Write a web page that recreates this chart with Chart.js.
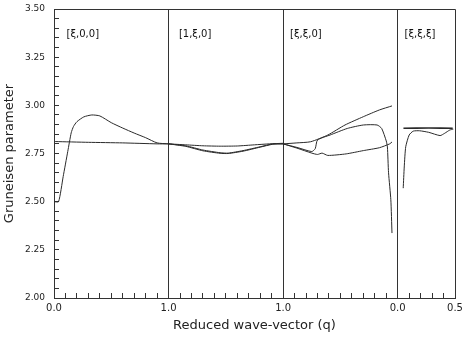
<!DOCTYPE html>
<html>
<head>
<meta charset="utf-8">
<script src="https://cdn.jsdelivr.net/npm/chart.js@4.4.1/dist/chart.umd.min.js"></script>
<style>
  html, body { margin: 0; padding: 0; background: #fff; }
</style>
</head>
<body>
<canvas id="gruneisen-chart" width="463" height="339"></canvas>
<script>
// path coordinate: [xi,0,0] 0-1, [1,xi,0] 1-2, [xi,xi,0] 2-3, [xi,xi,xi] 3-3.5
const segmentNames = ['[ξ,0,0]', '[1,ξ,0]', '[ξ,ξ,0]', '[ξ,ξ,ξ]'];
const boundaries = [1, 2, 3];
const xTickPositions = [0, 1, 2, 3, 3.5];
const xTickLabels = ['0.0', '1.0', '1.0', '0.0', '0.5'];

// [xi,0,0]
const s1UpperQ = [0, 0.04, 0.08, 0.12, 0.15, 0.17, 0.20, 0.26, 0.33, 0.40, 0.50, 0.60, 0.70, 0.80, 0.90, 1.0];
const s1UpperG = [2.50, 2.50, 2.63, 2.76, 2.857, 2.89, 2.915, 2.94, 2.95, 2.945, 2.91, 2.882, 2.856, 2.832, 2.805, 2.80];
const s1FlatQ = [0.01, 0.3, 0.6, 0.9, 1.0];
const s1FlatG = [2.812, 2.808, 2.805, 2.80, 2.80];

// [1,xi,0]
const s2UpperQ = [1.0, 1.15, 1.30, 1.45, 1.60, 1.75, 1.88, 2.0];
const s2UpperG = [2.80, 2.795, 2.79, 2.788, 2.789, 2.795, 2.80, 2.803];
const s2LowerQ = [1.0, 1.15, 1.30, 1.45, 1.52, 1.65, 1.80, 1.91, 2.0];
const s2LowerG = [2.80, 2.79, 2.768, 2.754, 2.752, 2.765, 2.785, 2.80, 2.80];
const s2Lower2G = [2.80, 2.787, 2.764, 2.751, 2.75, 2.762, 2.783, 2.798, 2.80];

// [xi,xi,0]
const s3UpperQ = [2.0, 2.12, 2.24, 2.39, 2.54, 2.70, 2.84, 2.95];
const s3UpperG = [2.80, 2.805, 2.811, 2.846, 2.898, 2.941, 2.976, 2.997];
const s3MidQ = [2.0, 2.13, 2.25, 2.28, 2.30, 2.41, 2.56, 2.70, 2.82, 2.86, 2.90, 2.91, 2.92, 2.94, 2.95];
const s3MidG = [2.80, 2.78, 2.76, 2.775, 2.82, 2.846, 2.88, 2.898, 2.898, 2.88, 2.815, 2.784, 2.65, 2.51, 2.337];
const s3LowerQ = [2.0, 2.12, 2.25, 2.30, 2.34, 2.39, 2.55, 2.70, 2.84, 2.93, 2.95];
const s3LowerG = [2.80, 2.778, 2.752, 2.745, 2.752, 2.74, 2.748, 2.765, 2.78, 2.80, 2.81];

// [xi,xi,xi]
const s4FlatQ = [3.05, 3.27, 3.48];
const s4FlatG = [2.881, 2.882, 2.881];
const s4CurveQ = [3.048, 3.057, 3.07, 3.10, 3.135, 3.19, 3.27, 3.37, 3.41, 3.455, 3.485];
const s4CurveG = [2.57, 2.68, 2.785, 2.846, 2.866, 2.868, 2.86, 2.843, 2.855, 2.872, 2.876];

const curves = [
    [s1UpperQ, s1UpperG], [s1FlatQ, s1FlatG],
    [s2UpperQ, s2UpperG], [s2LowerQ, s2LowerG], [s2LowerQ, s2Lower2G],
    [s3UpperQ, s3UpperG], [s3MidQ, s3MidG], [s3LowerQ, s3LowerG],
    [s4FlatQ, s4FlatG], [s4CurveQ, s4CurveG],
];

const near = (a, b) => Math.abs(a - b) < 1e-6;

const decor = {
    id: 'decor',
    afterDraw(chart) {
        const {ctx, chartArea: a, scales: {x, y}} = chart;
        ctx.save();
        ctx.strokeStyle = '#333';
        ctx.lineWidth = 1;
        ctx.beginPath();
        ctx.moveTo(a.left, Math.round(a.top) + 0.5);
        ctx.lineTo(Math.round(a.right) + 0.5, Math.round(a.top) + 0.5);
        ctx.lineTo(Math.round(a.right) + 0.5, a.bottom);
        ctx.stroke();
        ctx.fillStyle = '#111';
        ctx.font = '10px "DejaVu Sans"';
        ctx.textBaseline = 'middle';
        const at = [0.11, 1.09, 2.06, 3.06];
        segmentNames.forEach((name, i) => {
            ctx.fillText(name, x.getPixelForValue(at[i]), y.getPixelForValue(3.37));
        });
        ctx.restore();
    }
};

new Chart(document.getElementById('gruneisen-chart'), {
    type: 'line',
    data: {
        datasets: curves.map(([q, g]) => ({
            data: q.map((v, i) => ({x: v, y: g[i]})),
            borderColor: '#2a2a2a',
            borderWidth: q === s4FlatQ ? 1.6 : 1,
            pointRadius: 0,
            tension: 0.2,
            fill: false,
        }))
    },
    options: {
        responsive: false,
        animation: false,
        layout: {padding: {top: 9, right: 8, left: 0, bottom: 6}},
        plugins: {legend: {display: false}, tooltip: {enabled: false}},
        scales: {
            x: {
                type: 'linear',
                min: 0,
                max: 3.5,
                afterBuildTicks: s => {
                    s.ticks = Array.from({length: 36}, (_, i) => ({value: i / 10}));
                },
                afterFit: s => {
                    s.height = 35;
                    s.paddingLeft = 0;
                    s.paddingRight = 0;
                },
                ticks: {
                    autoSkip: false,
                    maxRotation: 0,
                    padding: 9,
                    color: '#222',
                    font: {family: 'DejaVu Sans', size: 10},
                    callback: v => {
                        const k = xTickPositions.findIndex(p => near(p, v));
                        return k < 0 ? '' : xTickLabels[k];
                    }
                },
                grid: {
                    color: c => boundaries.some(b => c.tick && near(b, c.tick.value)) ? '#333' : 'rgba(0,0,0,0)',
                    tickColor: '#333',
                    tickLength: -5,
                    lineWidth: 1,
                },
                border: {display: true, color: '#333', width: 1},
                title: {
                    display: true,
                    text: 'Reduced wave-vector (q)',
                    color: '#222',
                    font: {family: 'DejaVu Sans', size: 13},
                    padding: {top: 0, bottom: 0},
                }
            },
            y: {
                type: 'linear',
                min: 2.0,
                max: 3.5,
                afterBuildTicks: s => {
                    s.ticks = Array.from({length: 31}, (_, i) => ({value: 2 + i * 0.05}));
                },
                afterFit: s => {
                    s.width = 54;
                    s.paddingTop = 0;
                    s.paddingBottom = 0;
                },
                ticks: {
                    autoSkip: false,
                    padding: 14,
                    color: '#222',
                    font: {family: 'DejaVu Sans', size: 9},
                    callback: v => {
                        const m = Math.round(v * 100);
                        return m % 25 === 0 ? (m / 100).toFixed(2) : '';
                    }
                },
                grid: {
                    color: 'rgba(0,0,0,0)',
                    tickColor: '#333',
                    tickLength: -5,
                },
                border: {display: true, color: '#333', width: 1},
                title: {
                    display: true,
                    text: 'Gruneisen parameter',
                    color: '#222',
                    font: {family: 'DejaVu Sans', size: 13},
                    padding: {top: 2, bottom: 0},
                }
            }
        }
    },
    plugins: [decor]
});
</script>
</body>
</html>
